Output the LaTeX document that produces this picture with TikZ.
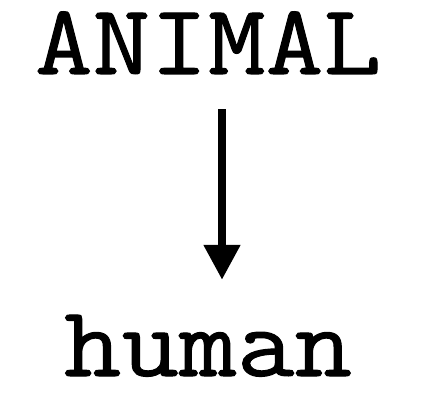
\documentclass[tikz,border=0pt]{standalone}
\usepackage{fontspec}
\newfontfamily\monofont[FakeStretch=1.12, FakeBold=1]{Latin Modern Mono}
\usetikzlibrary{arrows.meta}
\begin{document}
\begin{tikzpicture}[x=1pt, y=-1pt,
        word/.style={inner sep=0pt, anchor=base, text height=58pt, text depth=0pt,
            font=\monofont\fontsize{100}{100}\selectfont},
        arrow/.style={-{Triangle[width=35pt, length=35pt]}, line width=8pt}
    ]
        \useasboundingbox (0,0) rectangle (447,396);
        \node[word] (animal) at (208,74) {ANIMAL};
        \node[word] (human) at (208,376) {human};

        \draw[arrow] ([xshift=14pt, yshift=-35pt]animal.south) -- ([xshift=14pt, yshift=38pt]human.north);
    \end{tikzpicture}
\end{document}
